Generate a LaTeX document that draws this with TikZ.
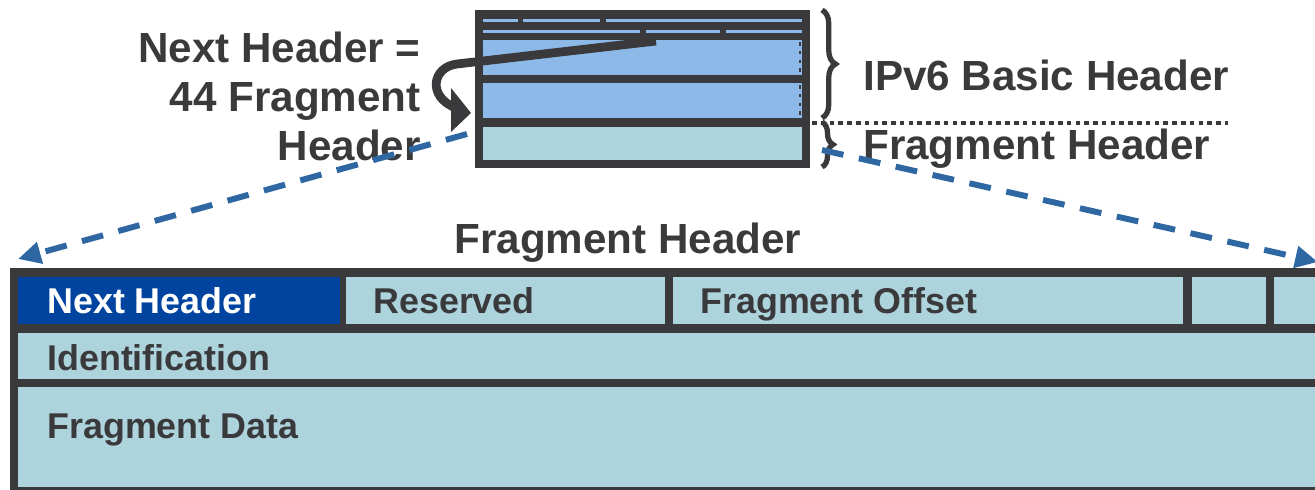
\documentclass[tikz,border=0pt]{standalone}
\usepackage{fontspec}
\setmainfont{Liberation Sans}
\usetikzlibrary{arrows.meta,decorations.pathreplacing}
\definecolor{dk}{HTML}{3A3A3C}
\definecolor{lb}{HTML}{8CB9E8}
\definecolor{tl}{HTML}{ADD3DC}
\definecolor{nb}{HTML}{0044A0}
\definecolor{db}{HTML}{2F67A3}
\begin{document}
\begin{tikzpicture}[x=0.02cm,y=-0.02cm,
  every node/.style={inner sep=0pt},
  big/.style={font=\fontsize{24}{28}\selectfont\bfseries, text=dk},
  celltext/.style={font=\fontsize{20.4}{24}\selectfont\bfseries, text=dk},
  dasharrow/.style={draw=db, line width=3.4pt, dash pattern=on 12.5pt off 9pt, -{Triangle[length=13pt,width=12pt]}},
  bracestyle/.style={draw=dk, line width=3pt, decorate, decoration={brace, amplitude=0.27cm}},
  hook/.style={draw=dk, line width=5pt, line join=round}]
\useasboundingbox (0,0) rectangle (1315,490);
\clip (0,0) rectangle (1315,490);

% ---- IPv6 header block (top)
\fill[dk] (475,10) rectangle (810,168);
\fill[lb] (483,19) rectangle (518,22);
\fill[lb] (523,19) rectangle (600,22);
\fill[lb] (606,19) rectangle (802,22);
\fill[lb] (483,30) rectangle (640,33);
\fill[lb] (646,30) rectangle (720,33);
\fill[lb] (726,30) rectangle (802,33);
\fill[lb] (483,40) rectangle (802,75);
\fill[lb] (483,83) rectangle (802,118);
\fill[tl] (483,127) rectangle (802,160);
\draw[dk, line width=1.2pt, dash pattern=on 2pt off 3pt] (800,42) -- (800,74);
\draw[dk, line width=1.2pt, dash pattern=on 2pt off 3pt] (800,85) -- (800,117);

% hook arrow
\coordinate (hA) at (656,41);
\coordinate (hB) at (457,64);
\coordinate (hC) at (456,108);
\draw[hook] (hA) -- (hB) .. controls (432,67) and (427,97) .. (hC);
\fill[dk] (451,88) -- (471,113) -- (451,132) -- cycle;

% braces and dotted separator
\coordinate (b1s) at (822,10);
\coordinate (b1e) at (822,118);
\coordinate (b2s) at (822,122);
\coordinate (b2e) at (822,167);
\draw[bracestyle] (b1s) -- (b1e);
\draw[bracestyle, decoration={brace, amplitude=0.22cm}] (b2s) -- (b2e);
\coordinate (ds) at (812,123);
\coordinate (de) at (1228,123);
\draw[dk, line width=2.6pt, dash pattern=on 2.6pt off 2.4pt] (ds) -- (de);

% labels top
\node[big, anchor=base west] (ipv6) at (863,90) {IPv6 Basic Header};
\node[big, anchor=base west] (fhr) at (863,159) {Fragment Header};
\node[big, anchor=base east] (nh1) at (421,62) {Next Header =};
\node[big, anchor=base east] (nh2) at (421,111) {44 Fragment};
\node[big, anchor=base east] (nh3) at (421,160) {Header};

% ---- fragment header table (bottom)
\fill[dk] (10,268) rectangle (1330,495);
\fill[nb] (18,277) rectangle (340,324);
\fill[tl] (346,277) rectangle (665,324);
\fill[tl] (673,277) rectangle (1183,324);
\fill[tl] (1192,277) rectangle (1266,324);
\fill[tl] (1274,277) rectangle (1330,324);
\fill[tl] (18,333) rectangle (1330,379);
\fill[tl] (18,387) rectangle (1330,487);

\node[big, anchor=base] (title) at (628,253) {Fragment Header};
\node[celltext, text=white, anchor=base west] (tnh) at (47,313) {Next Header};
\node[celltext, anchor=base west] (tres) at (373,313) {Reserved};
\node[celltext, anchor=base west] (tfo) at (700,313) {Fragment Offset};
\node[celltext, anchor=base west] (tid) at (47,370) {Identification};
\node[celltext, anchor=base west] (tfd) at (47,438) {Fragment Data};

% dashed arrows
\coordinate (ls) at (467,134);
\coordinate (le) at (18,259);
\coordinate (rs) at (822,150);
\coordinate (re) at (1318,262);
\draw[dasharrow] (ls) -- (le);
\draw[dasharrow] (rs) -- (re);
\end{tikzpicture}
\end{document}
